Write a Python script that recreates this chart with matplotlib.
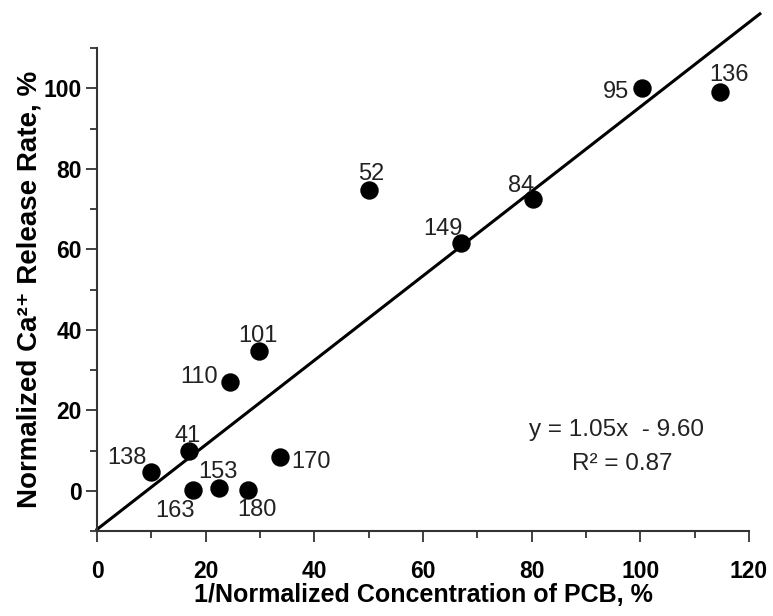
import matplotlib
matplotlib.use("Agg")
import matplotlib.pyplot as plt
import numpy as np
from matplotlib.ticker import MultipleLocator

plt.rcParams['font.family'] = ['Liberation Sans', 'DejaVu Sans']

# Data
congeners = ['138', '41', '163', '153', '180', '110', '101', '170', '52', '149', '84', '95', '136']
x_vals = [10.0, 17.0, 17.7, 22.5, 27.7, 24.5, 29.9, 33.6, 50.0, 67.0, 80.2, 100.3, 114.6]
y_vals = [4.7, 9.9, 0.3, 0.7, 0.3, 27.1, 34.6, 8.3, 74.7, 61.6, 72.6, 100.1, 99.1]
slope = 1.05
intercept = -9.60
r2 = 0.87
fit_x = [0, 122]

# label offsets (pixels)
offsets = {
    '138': (-24, 14), '41': (-2, 15), '163': (-18, -21), '153': (-1, 16),
    '180': (9, -20), '110': (-31, 5), '101': (-2, 15), '170': (31, -5),
    '52': (3, 16), '149': (-18, 14), '84': (-12, 13), '95': (-26, -4),
    '136': (9, 17),
}

fig = plt.figure(figsize=(7.73, 6.16), dpi=100)
ax = fig.add_axes([0.1255, 0.138, 0.8435, 0.784])

fx = np.array(fit_x, dtype=float)
ax.plot(fx, slope * fx + intercept, color='black', lw=2.2, clip_on=False, zorder=2)
ax.scatter(x_vals, y_vals, s=150, color='black', zorder=3, clip_on=False)

for name, x, y in zip(congeners, x_vals, y_vals):
    dx, dy = offsets[name]
    ax.annotate(name, (x, y), xytext=(dx, dy), textcoords='offset pixels',
                ha='center', va='center', fontsize=17, color='#222222', zorder=4)

ax.text(0.797, 0.21, f"y = {slope:.2f}x  - {abs(intercept):.2f}", transform=ax.transAxes,
        ha='center', va='center', fontsize=17.5, color='#222222')
ax.text(0.805, 0.138, f"R² = {r2:.2f}", transform=ax.transAxes,
        ha='center', va='center', fontsize=17.5, color='#222222')

ax.set_xlim(0, 120)
ax.set_ylim(-10, 110)
ax.xaxis.set_major_locator(MultipleLocator(20))
ax.xaxis.set_minor_locator(MultipleLocator(10))
ax.set_yticks([0, 20, 40, 60, 80, 100])
ax.yaxis.set_minor_locator(MultipleLocator(10))

for s in ['top', 'right']:
    ax.spines[s].set_visible(False)
for s in ['left', 'bottom']:
    ax.spines[s].set_linewidth(1.5)
    ax.spines[s].set_color('#333333')

ax.tick_params(which='major', direction='out', length=8, width=1.3, labelsize=16.5, pad=13, colors='#333333')
ax.tick_params(which='minor', direction='out', length=5, width=1.3, colors='#333333')
ax.tick_params(axis='y', which='major', pad=3)
for lab in ax.get_xticklabels() + ax.get_yticklabels():
    lab.set_fontweight('bold')
    lab.set_color('black')

ax.set_xlabel("1/Normalized Concentration of PCB, %", fontsize=18, fontweight='bold', labelpad=0)
ax.set_ylabel("Normalized Ca²⁺ Release Rate, %", fontsize=20, fontweight='bold', labelpad=1)

fig.savefig("out.png", dpi=100)
